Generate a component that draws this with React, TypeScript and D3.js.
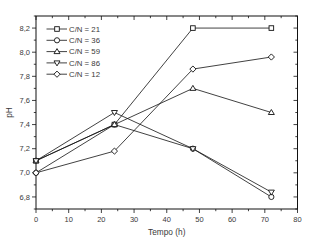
import React from "react";
import * as d3 from "d3";

const times = [0, 24, 48, 72];
const seriesNames = ["C/N = 21", "C/N = 36", "C/N = 59", "C/N = 86", "C/N = 12"];
const markers = ["square", "circle", "triangleUp", "triangleDown", "diamond"];
const cn21 = [7.1, 7.4, 8.2, 8.2];
const cn36 = [7.0, 7.4, 7.2, 6.8];
const cn59 = [7.1, 7.4, 7.7, 7.5];
const cn86 = [7.1, 7.5, 7.2, 6.84];
const cn12 = [7.0, 7.18, 7.86, 7.96];
const allSeries = [cn21, cn36, cn59, cn86, cn12];
const xTicks = [0, 10, 20, 30, 40, 50, 60, 70, 80];
const yTicks = [6.8, 7.0, 7.2, 7.4, 7.6, 7.8, 8.0, 8.2];

const W = 310, H = 242;
const L = 36, R = 297.5, T = 16, B = 209;

function Marker({ type, x, y }: { type: string; x: number; y: number }) {
  const s = 2.6;
  const common = { fill: "white", stroke: "#111", strokeWidth: 0.9 };
  if (type === "square") return <rect x={x - s + 0.3} y={y - s + 0.3} width={2 * s - 0.6} height={2 * s - 0.6} {...common} />;
  if (type === "circle") return <circle cx={x} cy={y} r={s} {...common} />;
  if (type === "triangleUp")
    return <path d={`M${x},${y - s - 0.4}L${x + s + 0.4},${y + s - 0.6}L${x - s - 0.4},${y + s - 0.6}Z`} {...common} />;
  if (type === "triangleDown")
    return <path d={`M${x},${y + s + 0.4}L${x + s + 0.4},${y - s + 0.6}L${x - s - 0.4},${y - s + 0.6}Z`} {...common} />;
  return <path d={`M${x},${y - s - 0.5}L${x + s + 0.5},${y}L${x},${y + s + 0.5}L${x - s - 0.5},${y}Z`} {...common} />;
}

export default function App() {
  const x = d3.scaleLinear().domain([0, 80]).range([L, R]);
  const y = d3.scaleLinear().domain([6.7, 8.3]).range([B, T]);
  const line = d3.line<number>().x((_, i) => x(times[i])).y((v) => y(v));
  const xMinor = d3.range(0, 80.01, 5);
  const yMinor = d3.range(6.7, 8.301, 0.1);
  const font = "'Liberation Sans', Arial, sans-serif";
  const tc = "#3a3a3a";
  return (
    <svg width={W} height={H} style={{ position: "absolute", left: 0, top: 0 }}>
      <rect width={W} height={H} fill="white" />
      <rect x={L} y={T} width={R - L} height={B - T} fill="none" stroke="#111" strokeWidth={1} />
      {xMinor.map((t, i) => {
        const major = Math.abs(t % 10) < 1e-6;
        const len = major ? 4 : 2.2;
        return (
          <g key={"xt" + i} stroke="#111" strokeWidth={0.8}>
            <line x1={x(t)} x2={x(t)} y1={B} y2={B + len} />
            <line x1={x(t)} x2={x(t)} y1={T} y2={T + len} />
          </g>
        );
      })}
      {yMinor.map((t, i) => {
        const major = Math.abs(Math.round(t * 10) % 2) === 0;
        const len = major ? 4 : 2.2;
        return (
          <g key={"yt" + i} stroke="#111" strokeWidth={0.8}>
            <line x1={L - len} x2={L} y1={y(t)} y2={y(t)} />
            <line x1={R - len} x2={R} y1={y(t)} y2={y(t)} />
          </g>
        );
      })}
      {xTicks.map((t) => (
        <text key={"xl" + t} x={x(t)} y={B + 13} fontSize={7.5} fontFamily={font} fill={tc} textAnchor="middle">
          {t}
        </text>
      ))}
      {yTicks.map((t) => (
        <text key={"yl" + t} x={L - 6} y={y(t) + 2.6} fontSize={7.5} fontFamily={font} fill={tc} textAnchor="end">
          {t.toFixed(1).replace(".", ",")}
        </text>
      ))}
      <text x={(L + R) / 2} y={235} fontSize={8.3} fontFamily={font} fill={tc} textAnchor="middle">
        Tempo (h)
      </text>
      <text transform={`translate(11.5,${(T + B) / 2}) rotate(-90)`} fontSize={8.3} fontFamily={font} fill={tc} textAnchor="middle">
        pH
      </text>
      {allSeries.map((s, si) => (
        <path key={"l" + si} d={line(s) || ""} fill="none" stroke="#111" strokeWidth={0.8} />
      ))}
      {allSeries.map((s, si) =>
        s.map((v, i) => <Marker key={"m" + si + "_" + i} type={markers[si]} x={x(times[i])} y={y(v)} />)
      )}
      {seriesNames.map((n, i) => {
        const ly = 29 + i * 11.3;
        return (
          <g key={"lg" + i}>
            <line x1={46.5} x2={67} y1={ly} y2={ly} stroke="#111" strokeWidth={0.8} />
            <Marker type={markers[i]} x={57} y={ly} />
            <text x={69} y={ly + 2.7} fontSize={7.8} fontFamily={font} fill={tc}>
              {n}
            </text>
          </g>
        );
      })}
    </svg>
  );
}
